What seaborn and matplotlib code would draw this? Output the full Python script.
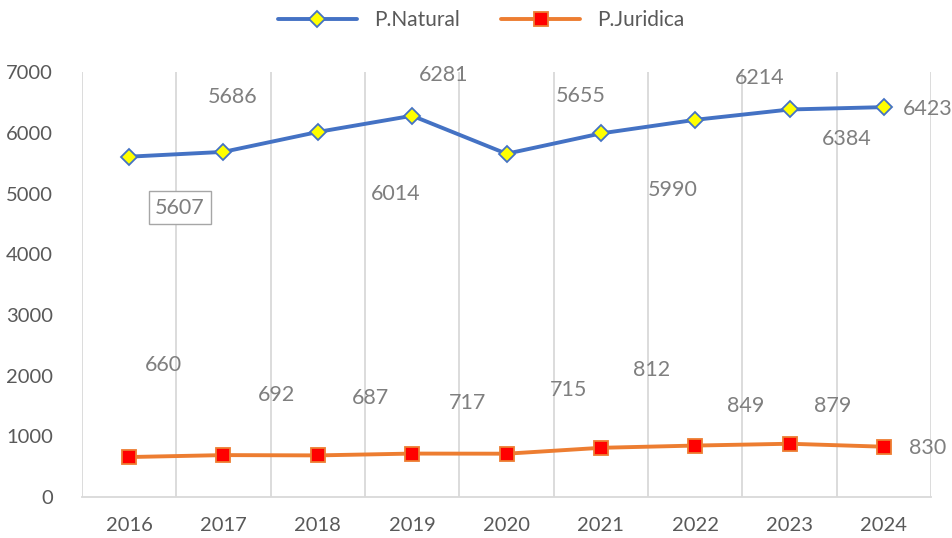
import pandas as pd
import seaborn as sns
import matplotlib.pyplot as plt

years = ['2016', '2017', '2018', '2019', '2020', '2021', '2022', '2023', '2024']
natural = [5607, 5686, 6014, 6281, 5655, 5990, 6214, 6384, 6423]
juridica = [660, 692, 687, 717, 715, 812, 849, 879, 830]

# label offsets in pixels (dx, dy up), as placed in the original chart
natural_off = [(51, -51), (9, 55), (78, -62), (31, 41), (74, 58), (72, -57), (64, 42), (57, -30), (44, -2)]
juridica_off = [(34, 92), (53, 60), (53, 57), (55, 51), (62, 64), (51, 78), (50, 40), (43, 38), (44, -1)]

sns.set_theme(style='white')
plt.rcParams['font.family'] = ['Lato', 'DejaVu Sans']

df = pd.DataFrame({'year': years, 'P.Natural': natural, 'P.Juridica': juridica})
df['x'] = range(len(years))

fig = plt.figure(figsize=(9.53, 5.38), dpi=100)
ax = fig.add_axes([0.086, 0.076, 0.891, 0.79])

sns.lineplot(data=df, x='x', y='P.Natural', ax=ax, color='#4472C4', linewidth=2.8,
             marker='D', markersize=8, markerfacecolor='#FFFF00', markeredgecolor='#4472C4',
             markeredgewidth=1.3, label='P.Natural')
sns.lineplot(data=df, x='x', y='P.Juridica', ax=ax, color='#ED7D31', linewidth=2.8,
             marker='s', markersize=10, markerfacecolor='#FF0000', markeredgecolor='#ED7D31',
             markeredgewidth=1.3, label='P.Juridica')

for i, v in enumerate(natural):
    dx, dy = natural_off[i]
    box = None
    if i == 0:
        box = dict(boxstyle='square,pad=0.3', facecolor='white', edgecolor='#A6A6A6', linewidth=1)
    ax.annotate(str(v), (i, v), xytext=(dx, dy), textcoords='offset pixels',
                ha='center', va='center', fontsize=15.5, color='#7F7F7F', bbox=box)
for i, v in enumerate(juridica):
    dx, dy = juridica_off[i]
    ax.annotate(str(v), (i, v), xytext=(dx, dy), textcoords='offset pixels',
                ha='center', va='center', fontsize=15.5, color='#7F7F7F')

ax.set_xlim(-0.5, 8.5)
ax.set_ylim(0, 7000)
ax.set_yticks(range(0, 7001, 1000))
ax.set_xticks(range(len(years)))
ax.set_xticklabels(years)
for b in [i + 0.5 for i in range(-1, 9)]:
    ax.axvline(b, color='#D9D9D9', linewidth=1.3, zorder=0)
ax.set_xlabel('')
ax.set_ylabel('')
for s in ['top', 'right', 'left']:
    ax.spines[s].set_visible(False)
ax.spines['bottom'].set_color('#D9D9D9')
ax.spines['bottom'].set_linewidth(1.3)
ax.tick_params(axis='y', labelsize=14.5, labelcolor='#595959', length=0, pad=21)
ax.tick_params(axis='x', labelsize=14.5, labelcolor='#595959', length=0, pad=14)

leg = ax.legend(loc='upper center', bbox_to_anchor=(0.47, 1.19), ncol=2, frameon=False,
                fontsize=15, handlelength=3.8, columnspacing=2.0)
for t in leg.get_texts():
    t.set_color('#595959')

fig.savefig('out.png', dpi=100)
